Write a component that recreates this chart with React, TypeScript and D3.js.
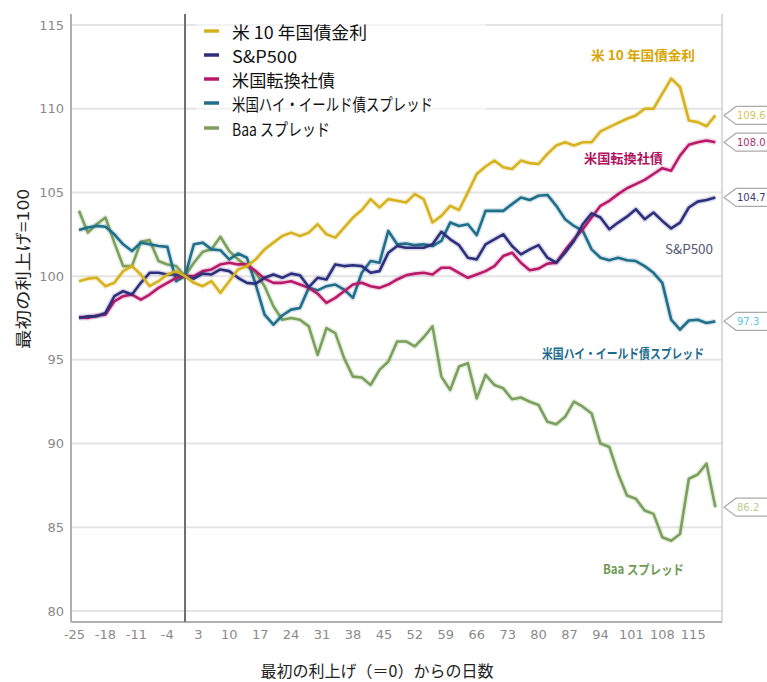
import * as d3 from "d3"
import { useEffect, useRef } from "react"

// days since first hike, every 2 days
const days = d3.range(-24, 121, 2)

const treasury10y = [
  99.7, 99.85, 99.9, 99.4, 99.6, 100.3, 100.6, 100.1, 99.4, 99.7, 100.1, 100.3,
  100, 99.6, 99.4, 99.7, 99.0, 99.7, 100.4, 100.6, 101.0, 101.6, 102.0, 102.4,
  102.6, 102.4, 102.6, 103.1, 102.5, 102.3, 102.9, 103.5, 103.95, 104.6, 104.1, 104.6,
  104.5, 104.4, 104.9, 104.6, 103.2, 103.6, 104.2, 103.95, 105.0, 106.1, 106.55, 106.9,
  106.5, 106.4, 106.9, 106.75, 106.7, 107.3, 107.8, 108.0, 107.8, 108.0, 108.0, 108.65,
  108.9, 109.15, 109.4, 109.6, 110.0, 110.0, 110.9, 111.8, 111.3, 109.3, 109.2, 108.95,
  109.6,
]
const sp500 = [
  97.5, 97.6, 97.6, 97.8, 98.8, 99.1, 98.9, 99.6, 100.2, 100.2, 100.1, 100.1,
  100, 99.85, 100.15, 100.1, 100.4, 100.3, 99.9, 99.6, 99.55, 99.9, 100.1, 99.9,
  100.15, 100.05, 99.35, 99.9, 99.8, 100.7, 100.6, 100.65, 100.6, 100.2, 100.3, 101.4,
  101.8, 101.7, 101.7, 101.7, 101.9, 102.65, 102.2, 101.85, 101.1, 101.0, 101.9, 102.2,
  102.5, 101.8, 101.3, 101.6, 101.85, 101.1, 100.8, 101.4, 102.1, 103.1, 103.75, 103.5,
  102.8, 103.2, 103.55, 104.0, 103.4, 103.8, 103.3, 102.85, 103.2, 104.1, 104.45, 104.55,
  104.7,
]
const convertibles = [
  97.55, 97.5, 97.65, 97.7, 98.5, 98.8, 98.9, 98.6, 98.9, 99.3, 99.6, 99.9,
  100, 100.0, 100.3, 100.4, 100.7, 100.8, 100.7, 100.7, 100.3, 99.85, 99.6, 99.6,
  99.7, 99.5, 99.3, 98.95, 98.4, 98.7, 99.1, 99.5, 99.6, 99.4, 99.3, 99.5,
  99.8, 100.05, 100.15, 100.2, 100.1, 100.5, 100.5, 100.2, 99.9, 100.1, 100.3, 100.6,
  101.2, 101.4, 100.8, 100.35, 100.45, 100.75, 100.8, 101.55, 102.2, 102.8, 103.5, 104.2,
  104.5, 104.9, 105.25, 105.5, 105.75, 106.1, 106.45, 106.3, 107.2, 107.85, 108.0, 108.1,
  108.0,
]
const highYield = [
  102.75, 102.9, 103.0, 102.95, 102.5, 101.9, 101.5, 102.0, 101.9, 101.8, 101.75, 99.7,
  100, 101.9, 102.0, 101.6, 101.55, 101.0, 101.35, 101.1, 99.5, 97.7, 97.1, 97.65,
  98.0, 98.1, 99.3, 99.15, 99.4, 99.5, 99.2, 98.7, 100.2, 100.9, 100.8, 102.7,
  101.9, 101.95, 101.85, 101.9, 101.8, 102.1, 103.2, 103.0, 103.1, 102.45, 103.9, 103.9,
  103.9, 104.3, 104.7, 104.55, 104.8, 104.85, 104.2, 103.4, 103.0, 102.7, 101.6, 101.1,
  100.95, 101.1, 100.95, 100.9, 100.6, 100.2, 99.6, 97.4, 96.8, 97.35, 97.4, 97.2,
  97.3,
]
const baaSpread = [
  103.9, 102.6, 103.1, 103.5, 102.0, 100.6, 100.6, 102.05, 102.15, 100.9, 100.7, 100.6,
  100, 100.8, 101.45, 101.6, 102.35, 101.5, 101.0, 100.6, 100.2, 99.4, 98.2, 97.4,
  97.5, 97.4, 97.0, 95.3, 96.9, 96.6, 95.1, 94.0, 93.95, 93.5, 94.4, 94.9,
  96.1, 96.1, 95.8, 96.35, 97.0, 94.0, 93.2, 94.6, 94.8, 92.7, 94.1, 93.5,
  93.3, 92.65, 92.75, 92.5, 92.3, 91.3, 91.15, 91.6, 92.5, 92.2, 91.8, 90.0,
  89.8, 88.2, 86.9, 86.7, 86.0, 85.8, 84.4, 84.2, 84.6, 87.9, 88.15, 88.8,
  86.2,
]

const seriesNames = ["米 10 年国債金利", "S&P500", "米国転換社債", "米国ハイ・イールド債スプレッド", "Baa スプレッド"]
const seriesValues = [treasury10y, sp500, convertibles, highYield, baaSpread]
const seriesColors = ["#d6b21f", "#2c2f7b", "#b8196a", "#1f6e8a", "#7aa05c"]
const tagTextColors = ["#d8c35c", "#3a3d78", "#a8336e", "#5fc4e6", "#b4cf90"]
const tagLabels = ["109.6", "104.7", "108.0", "97.3", "86.2"]

const xTicks = d3.range(-25, 116, 7)
const yTicks = [80, 85, 90, 95, 100, 105, 110, 115]

const JP = "'Noto Sans CJK JP', 'Noto Sans', sans-serif"

export default function App() {
  const svgRef = useRef<SVGSVGElement>(null)

  useEffect(() => {
    if (!svgRef.current) return
    const svg = d3.select(svgRef.current)
    svg.selectAll("*").remove()

    const left = 71
    const right = 722
    const top = 14
    const bottom = 622

    const x = d3.scaleLinear().domain([-25.8, 121.5]).range([left, right])
    const y = d3.scaleLinear().domain([80, 115]).range([611, 25])

    svg.append("rect").attr("width", 767).attr("height", 682).attr("fill", "#fff")

    // grid
    svg.append("g")
      .selectAll("line")
      .data(yTicks)
      .enter()
      .append("line")
      .attr("x1", left)
      .attr("x2", right)
      .attr("y1", (d) => y(d))
      .attr("y2", (d) => y(d))
      .attr("stroke", "#e4e4e4")
      .attr("stroke-width", 2)

    // legend backdrop
    svg.append("rect")
      .attr("x", 196)
      .attr("y", 15)
      .attr("width", 290)
      .attr("height", 126)
      .attr("fill", "#fff")
      .attr("opacity", 0.55)

    // frame
    svg.append("line").attr("x1", right).attr("x2", right).attr("y1", top).attr("y2", bottom)
      .attr("stroke", "#cfcfcf").attr("stroke-width", 1.5)
    svg.append("line").attr("x1", left).attr("x2", left).attr("y1", top).attr("y2", bottom)
      .attr("stroke", "#b0b0b0").attr("stroke-width", 2)
    svg.append("line").attr("x1", left).attr("x2", right).attr("y1", bottom).attr("y2", bottom)
      .attr("stroke", "#b0b0b0").attr("stroke-width", 2)

    // day 0 marker
    svg.append("line").attr("x1", x(0)).attr("x2", x(0)).attr("y1", top).attr("y2", bottom)
      .attr("stroke", "#6e6e6e").attr("stroke-width", 2)

    // tick labels
    svg.append("g")
      .selectAll("text")
      .data(yTicks)
      .enter()
      .append("text")
      .attr("x", 64)
      .attr("y", (d) => y(d))
      .attr("text-anchor", "end")
      .attr("dominant-baseline", "central")
      .style("font-family", "'DejaVu Sans', sans-serif")
      .style("font-size", "13px")
      .style("fill", "#8a8a8a")
      .text((d) => d)

    svg.append("g")
      .selectAll("text")
      .data(xTicks)
      .enter()
      .append("text")
      .attr("x", (d) => x(d))
      .attr("y", 634)
      .attr("text-anchor", "middle")
      .attr("dominant-baseline", "central")
      .style("font-family", "'DejaVu Sans', sans-serif")
      .style("font-size", "13px")
      .style("fill", "#8a8a8a")
      .text((d) => d)

    // axis titles
    svg.append("text")
      .attr("transform", "translate(22,269) rotate(-90)")
      .attr("text-anchor", "middle")
      .attr("dominant-baseline", "central")
      .attr("textLength", 160)
      .attr("lengthAdjust", "spacingAndGlyphs")
      .style("font-family", JP)
      .style("font-size", "16px")
      .style("fill", "#222")
      .text("最初の利上げ=100")

    svg.append("text")
      .attr("x", 377)
      .attr("y", 670)
      .attr("text-anchor", "middle")
      .attr("dominant-baseline", "central")
      .style("font-family", JP)
      .style("font-size", "16px")
      .style("fill", "#222")
      .text("最初の利上げ（＝0）からの日数")

    // lines
    const line = d3.line<number>()
      .x((_, i) => x(days[i]))
      .y((d) => y(d))

    const drawOrder = [4, 3, 2, 1, 0]
    drawOrder.forEach((s) => {
      svg.append("path")
        .attr("d", line(seriesValues[s]))
        .attr("fill", "none")
        .attr("stroke", seriesColors[s])
        .attr("stroke-opacity", 0.18)
        .attr("stroke-width", 5.5)
        .attr("stroke-linejoin", "round")
      svg.append("path")
        .attr("d", line(seriesValues[s]))
        .attr("fill", "none")
        .attr("stroke", seriesColors[s])
        .attr("stroke-width", 2.6)
        .attr("stroke-linejoin", "round")
    })

    // legend
    const legendY = [31, 55, 79, 103, 128]
    const legendWidths = [135, 65, 103, 201, 98]
    seriesNames.forEach((name, i) => {
      svg.append("line")
        .attr("x1", 204).attr("x2", 219)
        .attr("y1", legendY[i]).attr("y2", legendY[i])
        .attr("stroke", seriesColors[i])
        .attr("stroke-width", 3.5)
      svg.append("text")
        .attr("x", 232)
        .attr("y", legendY[i])
        .attr("dominant-baseline", "central")
        .attr("textLength", legendWidths[i])
        .attr("lengthAdjust", "spacingAndGlyphs")
        .style("font-family", JP)
        .style("font-size", "17px")
        .style("fill", "#111")
        .text(name)
    })

    // inline series labels
    const inline = [
      { text: "米 10 年国債金利", x: 591, y: 54, color: "#d9a400", bold: true, len: 104 },
      { text: "S&P500", x: 665, y: 248, color: "#555a72", bold: false, len: 48 },
      { text: "米国転換社債", x: 584, y: 157, color: "#b0125f", bold: true, len: 79 },
      { text: "米国ハイ・イールド債スプレッド", x: 542, y: 352, color: "#1b6a8d", bold: true, len: 162 },
      { text: "Baa スプレッド", x: 603, y: 568, color: "#6f9a55", bold: true, len: 81 },
    ]
    inline.forEach((l) => {
      svg.append("text")
        .attr("x", l.x)
        .attr("y", l.y)
        .attr("dominant-baseline", "central")
        .attr("textLength", l.len)
        .attr("lengthAdjust", "spacingAndGlyphs")
        .style("font-family", JP)
        .style("font-size", "13px")
        .style("font-weight", l.bold ? "bold" : "normal")
        .style("fill", l.color)
        .text(l.text)
    })

    // end value tags
    seriesValues.forEach((vals, i) => {
      const ty = y(vals[vals.length - 1])
      svg.append("path")
        .attr("d", `M724,${ty} L736,${ty - 9} L772,${ty - 9} L772,${ty + 9} L736,${ty + 9} Z`)
        .attr("fill", "#fff")
        .attr("stroke", "#aaa")
        .attr("stroke-width", 1.2)
      svg.append("text")
        .attr("x", 737)
        .attr("y", ty)
        .attr("dominant-baseline", "central")
        .style("font-family", "'DejaVu Sans', sans-serif")
        .style("font-size", "10px")
        .style("fill", tagTextColors[i])
        .text(tagLabels[i])
    })
  }, [])

  return (
    <svg
      ref={svgRef}
      width={767}
      height={682}
      style={{ position: "absolute", left: 0, top: 0, display: "block" }}
    />
  )
}
